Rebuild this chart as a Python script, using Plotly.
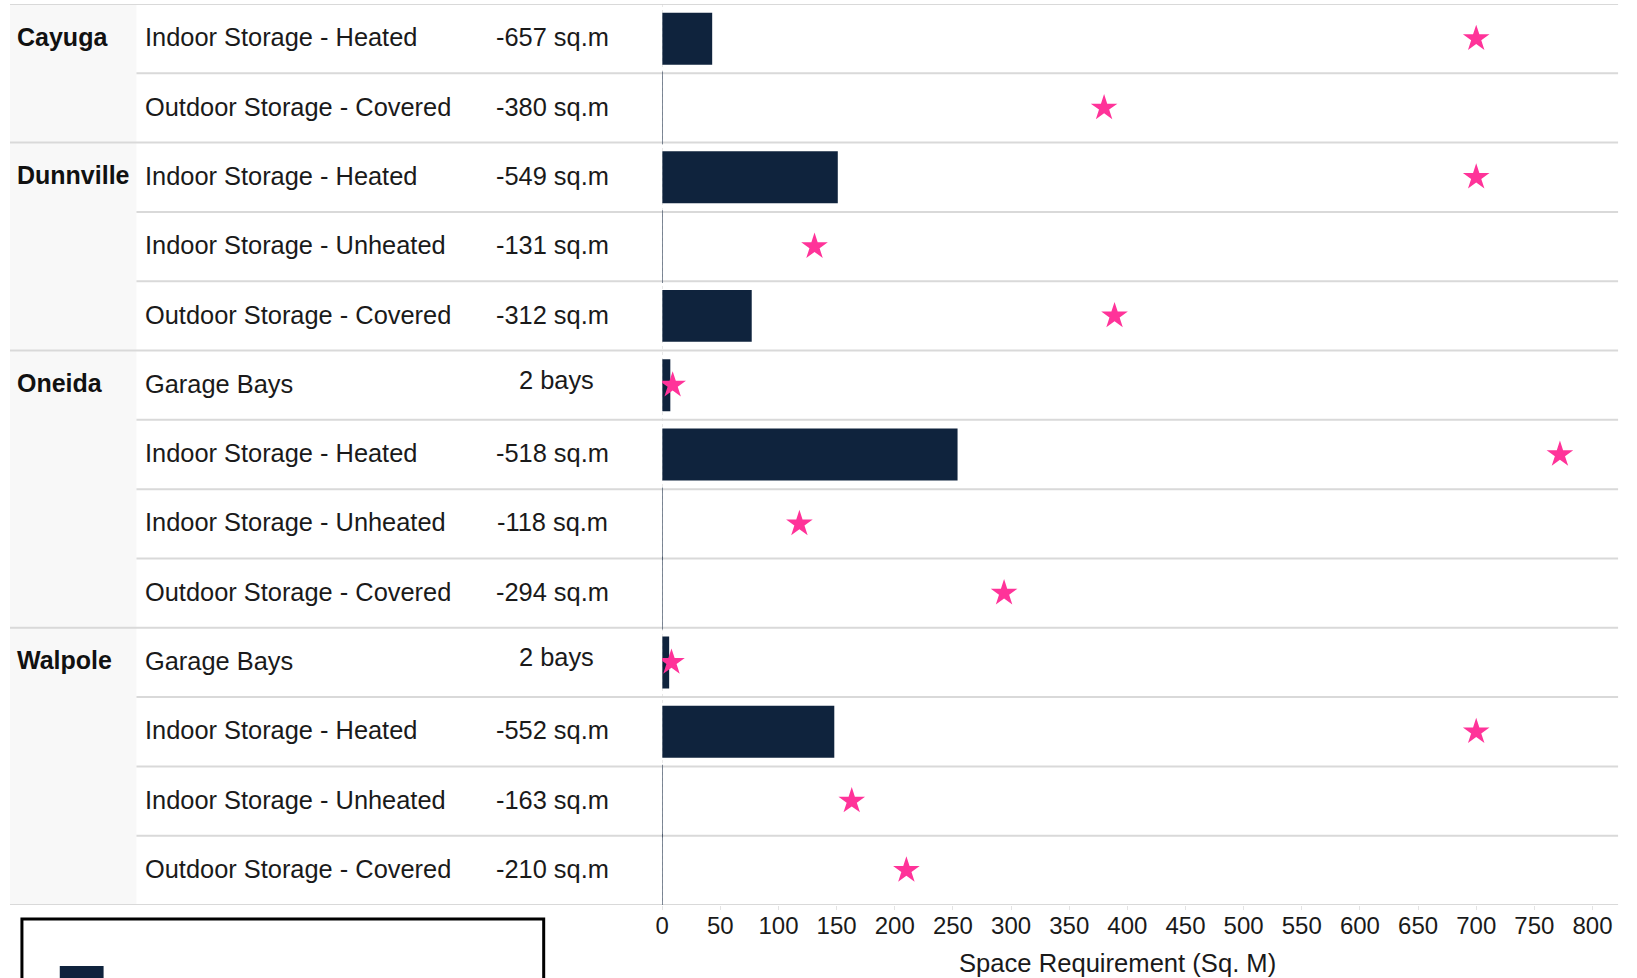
import plotly.graph_objects as go

# ---- data -------------------------------------------------------------
locations = ["Cayuga", "Dunnville", "Oneida", "Walpole"]
row_location = ["Cayuga", "Cayuga",
                "Dunnville", "Dunnville", "Dunnville",
                "Oneida", "Oneida", "Oneida", "Oneida",
                "Walpole", "Walpole", "Walpole", "Walpole"]
categories = ["Indoor Storage - Heated", "Outdoor Storage - Covered",
              "Indoor Storage - Heated", "Indoor Storage - Unheated", "Outdoor Storage - Covered",
              "Garage Bays", "Indoor Storage - Heated", "Indoor Storage - Unheated", "Outdoor Storage - Covered",
              "Garage Bays", "Indoor Storage - Heated", "Indoor Storage - Unheated", "Outdoor Storage - Covered"]
existing = [43, 0, 151, 0, 77, 7, 254, 0, 0, 6, 148, 0, 0]
required = [700, 380, 700, 131, 389, 9, 772, 118, 294, 8, 700, 163, 210]
gap_labels = ["-657 sq.m", "-380 sq.m",
              "-549 sq.m", "-131 sq.m", "-312 sq.m",
              "2 bays", "-518 sq.m", "-118 sq.m", "-294 sq.m",
              "2 bays", "-552 sq.m", "-163 sq.m", "-210 sq.m"]
x_ticks = list(range(0, 801, 50))
x_title = "Space Requirement (Sq. M)"

# ---- styling ----------------------------------------------------------
W, H = 1637, 978
FONT = "Liberation Sans, Arial, sans-serif"
TEXT = "#1a1a1a"
NAVY = "#0f233d"
PINK = "#ff3399"
RULE = "#d9d9d9"

def px(xp):
    return xp / W

def py(yp):
    return 1 - yp / H

top_px, bot_px = 4, 905
left_px, right_px = 658, 1618
x_max = 822
rows = list(range(len(categories)))
n = len(rows)

fig = go.Figure()

fig.add_trace(go.Bar(
    y=rows, x=existing, orientation="h", width=0.75,
    marker=dict(color=NAVY, line=dict(width=0)),
    hoverinfo="x",
))

# zero-length bars still show a hairline at the baseline
zero_rows = [r for r in rows if existing[r] == 0]
fig.add_trace(go.Scatter(
    y=zero_rows, x=[existing[r] for r in zero_rows], mode="markers",
    marker=dict(symbol="line-ns", size=52, line=dict(width=1.2, color="#3a4a60")),
    hoverinfo="skip",
))

fig.add_trace(go.Scatter(
    y=rows, x=required, mode="markers",
    marker=dict(symbol="star", size=20, color=PINK, line=dict(width=0)),
    hoverinfo="x",
))

shapes = []
annotations = []

# group backgrounds for the location column
group_start = {}
for i, loc in enumerate(row_location):
    group_start.setdefault(loc, i)
for loc in locations:
    idx = [i for i, l in enumerate(row_location) if l == loc]
    shapes.append(dict(type="rect", xref="paper", yref="y",
                       x0=px(3), x1=px(130), y0=idx[0] - 0.5, y1=idx[-1] + 0.5,
                       fillcolor="#f8f8f8", line=dict(width=0), layer="below"))
    annotations.append(dict(xref="paper", yref="y", x=px(8), y=idx[0] - 0.03,
                            text="<b>%s</b>" % loc, showarrow=False,
                            xanchor="left", yanchor="middle",
                            font=dict(family=FONT, size=25, color="#111111")))

# row rules: full width between groups, category-wide within a group
starts = set(group_start.values())
for b in range(n + 1):
    x0 = px(3) if (b in starts or b == n) else px(130)
    shapes.append(dict(type="line", xref="paper", yref="y",
                       x0=x0, x1=px(right_px), y0=b - 0.5, y1=b - 0.5,
                       line=dict(color=RULE, width=2), layer="below"))

# dotted baseline at zero
shapes.append(dict(type="line", xref="x", yref="y", x0=0, x1=0,
                   y0=-0.5, y1=n - 0.5,
                   line=dict(color="#d6d6d6", width=1, dash="dot"), layer="below"))

for r in rows:
    annotations.append(dict(xref="paper", yref="y", x=px(137), y=r - 0.02,
                            text=categories[r], showarrow=False,
                            xanchor="left", yanchor="middle",
                            font=dict(family=FONT, size=25.4, color=TEXT)))
    bays = "bays" in gap_labels[r]
    annotations.append(dict(xref="paper", yref="y", x=px(552 if bays else 548), y=r - 0.02,
                            text=gap_labels[r], showarrow=False,
                            xanchor="center", yanchor="middle",
                            yshift=4 if bays else 0,
                            font=dict(family=FONT, size=25.4, color=TEXT)))

annotations.append(dict(xref="paper", yref="paper", x=px(1115), y=py(963),
                        text=x_title, showarrow=False,
                        xanchor="center", yanchor="middle",
                        font=dict(family=FONT, size=25.6, color=TEXT)))

# legend frame below the table
shapes.append(dict(type="rect", xref="paper", yref="paper",
                   x0=px(15), x1=px(539), y0=py(1010), y1=py(919),
                   fillcolor="white", line=dict(color="black", width=3)))
shapes.append(dict(type="rect", xref="paper", yref="paper",
                   x0=px(53), x1=px(97), y0=py(1000), y1=py(966),
                   fillcolor=NAVY, line=dict(width=0)))

fig.update_layout(
    width=W, height=H,
    margin=dict(l=0, r=0, t=0, b=0),
    paper_bgcolor="white", plot_bgcolor="white",
    showlegend=False,
    font=dict(family=FONT, size=24, color=TEXT),
    shapes=shapes, annotations=annotations,
    bargap=0.25,
    xaxis=dict(domain=[px(left_px), px(right_px)], range=[0, x_max],
               tickvals=x_ticks, ticktext=[str(v) for v in x_ticks],
               tickfont=dict(family=FONT, size=24, color=TEXT),
               ticks="outside", ticklen=4, tickcolor="#e3e3e3",
               ticklabelstandoff=-5,
               showgrid=False, zeroline=False, showline=False),
    yaxis=dict(domain=[py(bot_px), py(top_px)], range=[n - 0.5, -0.5],
               showticklabels=False, showgrid=False, zeroline=False,
               showline=False, ticks=""),
)

fig.write_html("out.html")
